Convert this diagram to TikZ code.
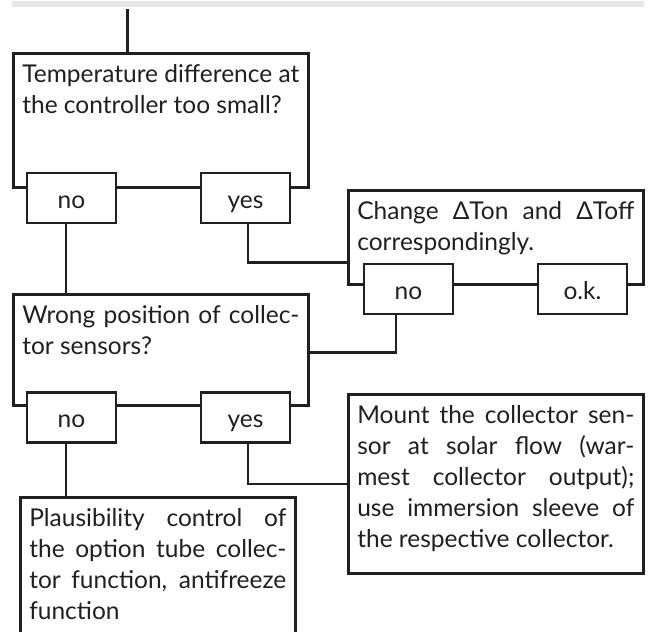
\documentclass[tikz,border=0pt]{standalone}
\usepackage{fontspec}
\setmainfont{Lato}
\usepackage{tikz}
\definecolor{inkgray}{RGB}{35,31,32}
\definecolor{bandgray}{RGB}{230,231,232}

\begin{document}
\begin{tikzpicture}[x=1pt, y=-1pt, line width=2.6pt, inkgray,
  question/.style={draw, fill=white, anchor=north west, inner xsep=9pt, inner ysep=10pt,
    text width=277pt, align=justify, text height=19pt, font=\fontsize{24.5}{31}\selectfont},
  answer/.style={draw, fill=white, minimum width=89pt, minimum height=50pt, inner sep=0pt,
    text height=20pt, text depth=0pt, font=\fontsize{24.5}{31}\selectfont}]

\useasboundingbox (0,0) rectangle (649,632);
\clip (0,0) rectangle (649,632);

\node[fill=bandgray, anchor=north west, minimum width=632pt, minimum height=6pt, inner sep=0pt]
  (band) at (11,0) {};

% questions and actions
\node[question, text depth=95pt] (temp) at (12,52)
  {Temperature difference at\linebreak the controller too small?};
\node[question, text depth=55pt] (change) at (347,189)
  {Change ΔTon and ΔToff\linebreak correspondingly.};
\node[question, text depth=72pt] (wrong) at (12,293)
  {Wrong position of collec-\linebreak tor sensors?};
\node[question, text depth=140pt] (mount) at (347,393)
  {Mount the collector sen-\linebreak sor at solar flow (war-\linebreak mest collector output);\linebreak use immersion sleeve of\linebreak the respective collector.};
\node[question, text width=257pt, text depth=160pt] (plaus) at (19,496)
  {Plausibility control of\linebreak the option tube collec-\linebreak tor function, antifreeze\linebreak function};

% answers
\node[answer] (tempno) at (71.5,198) {no};
\node[answer] (tempyes) at (245.5,198) {yes};
\node[answer] (changeno) at (408.5,289) {no};
\node[answer] (changeok) at (582.5,289) {o.k.};
\node[answer] (wrongno) at (71.5,417.5) {no};
\node[answer] (wrongyes) at (245.5,417.5) {yes};

% connectors
\coordinate (tempin) at ([xshift=-33.5pt]temp.north);
\coordinate (tempnoout) at ([xshift=-5.5pt]tempno.south);
\coordinate (tempyesout) at ([xshift=2.5pt]tempyes.south);
\coordinate (changenoout) at ([xshift=-12.5pt]changeno.south);
\coordinate (wrongnoout) at ([xshift=-5.5pt]wrongno.south);
\coordinate (wrongyesout) at ([xshift=2.5pt]wrongyes.south);

\draw (tempin) to (tempin |- band.south);
\draw (tempnoout) to (tempnoout |- wrong.north);
\draw (tempyesout) |- ([yshift=-25pt]change.west);
\draw (changenoout) |- ([yshift=-2.5pt]wrong.east);
\draw (wrongnoout) to (wrongnoout |- plaus.north);
\draw (wrongyesout) |- (mount.west);

\end{tikzpicture}
\end{document}
